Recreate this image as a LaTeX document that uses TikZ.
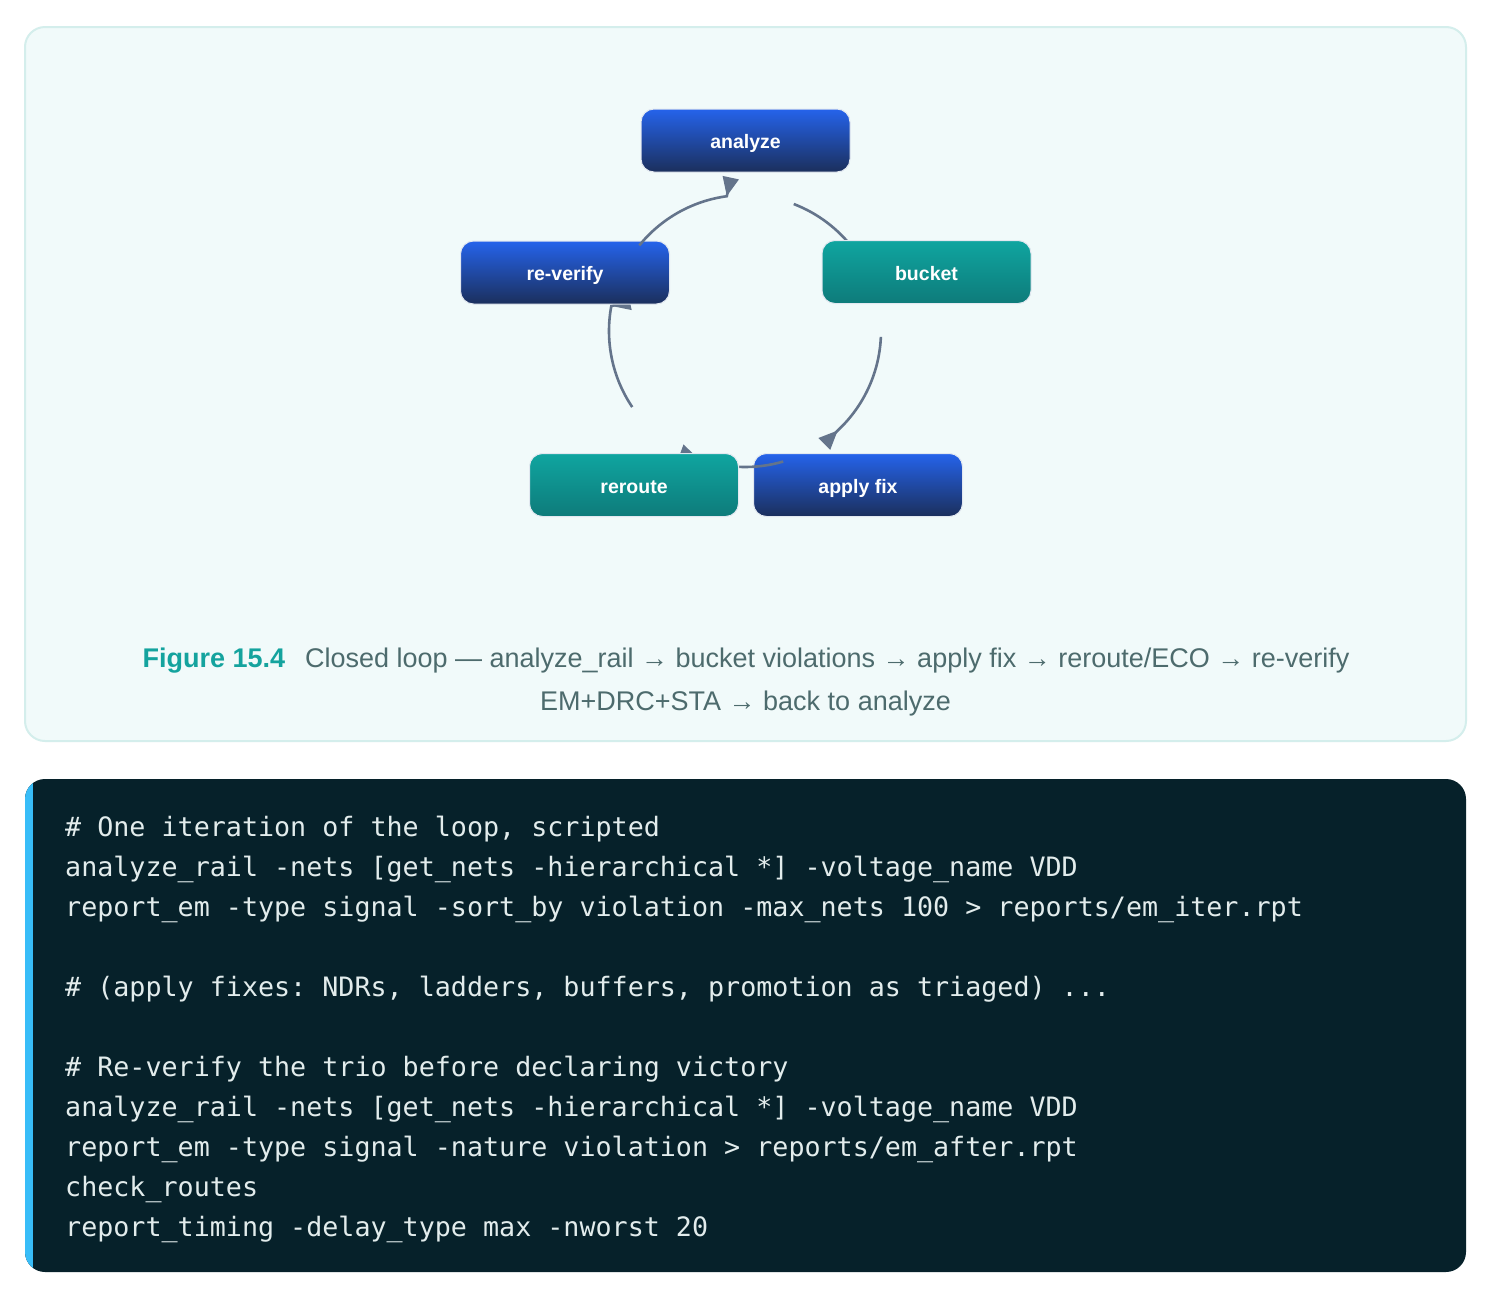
\documentclass[tikz,border=0pt]{standalone}
\usepackage{fontspec}
\setmainfont{Liberation Sans}
\newfontfamily\codefont{DejaVu Sans Mono}
\usetikzlibrary{arrows.meta}
\definecolor{framebg}{HTML}{F1FAFA}
\definecolor{frameedge}{HTML}{D4EEEC}
\definecolor{edgecol}{HTML}{64748B}
\definecolor{nodeedge}{HTML}{E2E8F0}
\definecolor{blueT}{HTML}{2563EB}
\definecolor{blueB}{HTML}{1B2F5C}
\definecolor{tealT}{HTML}{0FA5A0}
\definecolor{tealB}{HTML}{0E7B7A}
\definecolor{codebg}{HTML}{06212A}
\definecolor{accent}{HTML}{38BDF8}
\definecolor{codefg}{HTML}{E2ECEC}
\definecolor{capteal}{HTML}{14A39E}
\definecolor{captext}{HTML}{4D6B6D}
\frenchspacing
\begin{document}
\begin{tikzpicture}[x=1pt,y=-1pt,
  blk/.style={rounded corners=13pt, minimum width=209pt, minimum height=63pt,
    draw=nodeedge, line width=1pt, text=white, inner sep=0pt,
    text height=16pt, text depth=0pt,
    font=\fontsize{19.5}{22}\selectfont\bfseries},
  bluebox/.style={blk, top color=blueT, bottom color=blueB},
  tealbox/.style={blk, top color=tealT, bottom color=tealB},
  conn/.style={draw=edgecol, line width=2.6pt,
    -{Triangle[reversed,length=19pt,width=16pt]}},
  codeline/.style={anchor=base west, inner sep=0pt, text=codefg,
    font=\codefont\fontsize{26.7}{40}\selectfont},
  captxt/.style={anchor=base, inner sep=0pt, text=captext,
    font=\fontsize{27}{31}\selectfont}]
\useasboundingbox (0,0) rectangle (1494,1299);
\fill[white] (0,0) rectangle (1494,1299);

% figure frame
\path[fill=framebg, draw=frameedge, line width=2pt, rounded corners=20pt]
  (25,27) rectangle (1466,741);

% node under the connectors
\node[bluebox] (apply) at (858,485) {apply fix};

% connector geometry (circle centre (745,331), radius 136)
\coordinate (e1s) at (793.74,204.03);
\coordinate (e1a) at (817.53,213.16);
\coordinate (e1b) at (838.28,228.80);
\coordinate (e1e) at (853.61,249.15);
\coordinate (e1t) at (865.04,264.33);

\coordinate (e2s) at (880.87,336.93);
\coordinate (e2a) at (879.31,372.56);
\coordinate (e2b) at (863.83,406.14);
\coordinate (e2e) at (837.75,430.46);
\coordinate (e2t) at (824.32,443.89);

\coordinate (e3s) at (783.17,461.53);
\coordinate (e3a) at (755.36,469.66);
\coordinate (e3b) at (725.71,468.71);
\coordinate (e3e) at (698.49,458.80);
\coordinate (e3t) at (680.64,452.30);

\coordinate (e4s) at (632.25,407.05);
\coordinate (e4a) at (612.26,377.42);
\coordinate (e4b) at (604.75,341.11);
\coordinate (e4e) at (611.32,305.98);
\coordinate (e4t) at (629.90,301.90);

\coordinate (e5s) at (639.31,245.41);
\coordinate (e5a) at (661.13,218.47);
\coordinate (e5b) at (692.42,200.88);
\coordinate (e5e) at (726.78,196.23);
\coordinate (e5t) at (730.76,177.65);

\draw[conn] (e3s) .. controls (e3a) and (e3b) .. (e3e) -- (e3t);
\draw[conn] (e4s) .. controls (e4a) and (e4b) .. (e4e) -- (e4t);
\draw[conn] (e1s) .. controls (e1a) and (e1b) .. (e1e) -- (e1t);
\draw[conn] (e2s) .. controls (e2a) and (e2b) .. (e2e) -- (e2t);

\node[bluebox] (reverify) at (565,272.5) {re-verify};

\draw[conn] (e5s) .. controls (e5a) and (e5b) .. (e5e) -- (e5t);

\node[bluebox] (analyze) at (745.5,140.5) {analyze};
\node[tealbox] (bucket) at (926.5,272) {bucket};
\node[tealbox] (reroute) at (634,485) {reroute};

% caption
\node[captxt] (cap1) at (746,667) {{\bfseries\color{capteal}Figure 15.4}\hspace{20pt}Closed loop — analyze\_rail → bucket violations → apply fix → reroute/ECO → re-verify};
\node[captxt] (cap2) at (745.5,710) {EM+DRC+STA → back to analyze};

% code block
\path[fill=codebg, rounded corners=20pt] (25,779) rectangle (1466,1272);
\begin{scope}
  \clip[rounded corners=20pt] (25,779) rectangle (1466,1272);
  \fill[accent] (25,779) rectangle (33,1272);
\end{scope}

\node[codeline] (c1) at (65,836) {\# One iteration of the loop, scripted};
\node[codeline] (c2) at (65,876) {analyze\_rail -nets [get\_nets -hierarchical *] -voltage\_name VDD};
\node[codeline] (c3) at (65,916) {report\_em -type signal -sort\_by violation -max\_nets 100 > reports/em\_iter.rpt};
\node[codeline] (c5) at (65,996) {\# (apply fixes: NDRs, ladders, buffers, promotion as triaged) ...};
\node[codeline] (c7) at (65,1076) {\# Re-verify the trio before declaring victory};
\node[codeline] (c8) at (65,1116) {analyze\_rail -nets [get\_nets -hierarchical *] -voltage\_name VDD};
\node[codeline] (c9) at (65,1156) {report\_em -type signal -nature violation > reports/em\_after.rpt};
\node[codeline] (c10) at (65,1196) {check\_routes};
\node[codeline] (c11) at (65,1236) {report\_timing -delay\_type max -nworst 20};
\end{tikzpicture}
\end{document}
